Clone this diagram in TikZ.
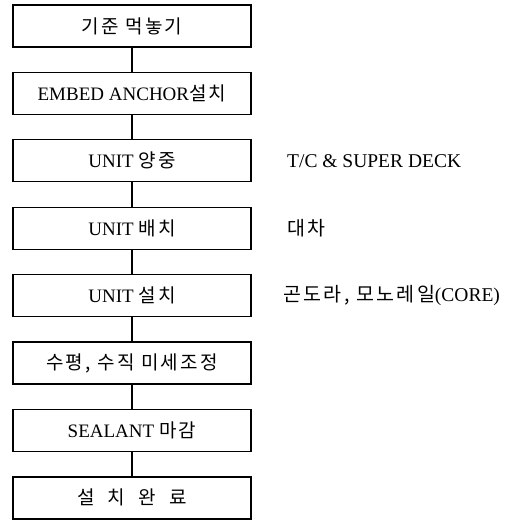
\documentclass[tikz,border=0pt]{standalone}
\usepackage{fontspec}
\setmainfont{Liberation Serif}
\newfontfamily\kr[LetterSpace=12]{Noto Sans CJK KR}
\begin{document}
\begin{tikzpicture}[x=1pt,y=-1pt,
  stepbox/.style={draw, line width=1.4pt, minimum width=238pt, minimum height=42pt,
    inner sep=0pt, font=\fontsize{19}{21}\selectfont},
  sidelabel/.style={anchor=west, inner sep=0pt, font=\fontsize{19.5}{21}\selectfont},
  link/.style={line width=1.3pt}]
\useasboundingbox (0,0) rectangle (511,521);
\node[stepbox] (b1) at (132,26)    {{\kr 기준 먹놓기}};
\node[stepbox] (b2) at (132,93.4)  {EMBED ANCHOR{\kr 설치}};
\node[stepbox] (b3) at (132,160.8) {UNIT {\kr 양중}};
\node[stepbox] (b4) at (132,228.2) {UNIT {\kr 배치}};
\node[stepbox] (b5) at (132,295.6) {UNIT {\kr 설치}};
\node[stepbox] (b6) at (132,363)   {{\kr 수평, 수직 미세조정}};
\node[stepbox] (b7) at (132,430.4) {SEALANT {\kr 마감}};
\node[stepbox] (b8) at (132,497.8) {{\kr 설\hspace{0.7em}치\hspace{0.7em}완\hspace{0.7em}료}};
\node[sidelabel] (s3) at (287,160.8) {T/C \& SUPER DECK};
\node[sidelabel] (s4) at (287,228.2) {{\kr 대차}};
\node[sidelabel] (s5) at (283,295.6) {{\kr 곤도라, 모노레일}(CORE)};
\foreach \a/\b in {b1/b2,b2/b3,b3/b4,b4/b5,b5/b6,b6/b7,b7/b8}
  \draw[link] (\a.south) -- (\b.north);
\end{tikzpicture}
\end{document}
